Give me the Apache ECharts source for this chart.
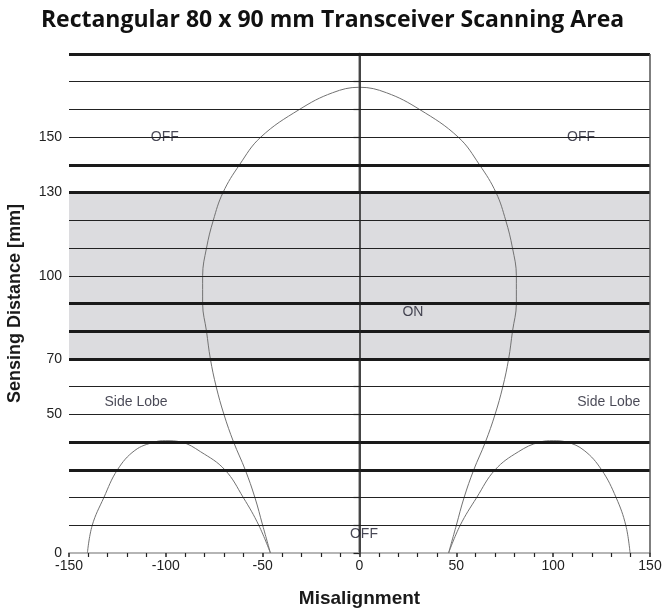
<!DOCTYPE html>
<html>
<head>
<meta charset="utf-8">
<script src="https://cdn.jsdelivr.net/npm/echarts@6/dist/echarts.min.js"></script>
<style>html,body{margin:0;padding:0;background:#fff}#c{width:665px;height:615px}</style>
</head>
<body>
<div id="c"></div>
<script>
// ---- data ----
var titleText = 'Rectangular 80 x 90 mm Transceiver Scanning Area';
var xAxisName = 'Misalignment';
var yAxisName = 'Sensing Distance [mm]';
var yTickLabels = [0, 50, 70, 100, 130, 150];
var thickLines = [30, 40, 70, 80, 90, 130, 140, 180];
var thinLines = [10, 20, 50, 60, 100, 110, 120, 150, 160, 170];
var onZone = [70, 130];

var mainLobeX = [-46, -50, -54, -59, -65, -70, -74, -77, -79, -81, -81, -79, -75.5, -70.5, -62, -51, -31, -14, 0, 14, 31, 51, 62, 70.5, 75.5, 79, 81, 81, 79, 77, 74, 70, 65, 59, 54, 50, 46];
var mainLobeY = [0, 10, 20, 30, 40, 50, 60, 70, 80, 90, 100, 110, 120, 130, 140, 150, 160, 166, 168, 166, 160, 150, 140, 130, 120, 110, 100, 90, 80, 70, 60, 50, 40, 30, 20, 10, 0];
var leftLobeX = [-140.5, -138, -132, -125, -116, -106, -100, -92, -82, -69.5, -60, -52, -46];
var leftLobeY = [0, 10, 20, 30, 37, 40, 40.5, 40, 36.5, 30, 20, 10, 0];
var rightLobeX = [46, 52, 60.5, 70, 82, 93, 100, 107, 116, 125, 132.5, 137.5, 139.7];
var rightLobeY = [0, 10, 20, 30, 36.5, 40, 40.5, 40, 37, 30, 20, 10, 0];

var zoneLabels = ['OFF', 'OFF', 'ON', 'Side Lobe', 'Side Lobe', 'OFF'];
var zoneLabelX = [-100.5, 114.4, 27.6, -115.4, 128.7, 2.3];
var zoneLabelY = [150, 150, 87, 54.3, 54.3, 6.8];

function pairs(xs, ys) { return xs.map(function (x, i) { return [x, ys[i]]; }); }

var chart = echarts.init(document.getElementById('c'), null, {renderer: 'canvas'});

var hLines = [];
thinLines.forEach(function (v) { hLines.push({yAxis: v, lineStyle: {width: 1.2, color: '#222', type: 'solid'}}); });
thickLines.forEach(function (v) { hLines.push({yAxis: v, lineStyle: {width: 3, color: '#1a1a1a', type: 'solid'}}); });
hLines.push({xAxis: 0, lineStyle: {width: 1.5, color: '#222', type: 'solid'}});
hLines.push({xAxis: 150, lineStyle: {width: 1.5, color: '#555', type: 'solid'}});

var curveStyle = {color: '#727272', width: 1};
var sans = 'Liberation Sans, Arial, sans-serif';

chart.setOption({
  animation: false,
  backgroundColor: '#fff',
  title: {
    text: titleText, left: 'center', top: 4,
    textStyle: {fontFamily: 'Open Sans', fontWeight: 'bold', fontSize: 23, color: '#111'}
  },
  grid: {left: 69, right: 15, top: 54, bottom: 62, containLabel: false, outerBoundsMode: 'none'},
  xAxis: {
    type: 'value', min: -150, max: 150, interval: 50,
    name: xAxisName, nameLocation: 'middle', nameGap: 36,
    nameTextStyle: {fontFamily: sans, fontWeight: 'bold', fontSize: 19, color: '#1a1a1a'},
    axisLine: {show: true, lineStyle: {color: '#b5b5b5', width: 2}},
    axisTick: {show: true, length: 4, lineStyle: {color: '#222', width: 1.5}},
    minorTick: {show: true, splitNumber: 5, length: 4, lineStyle: {color: '#222', width: 1.2}},
    axisLabel: {fontFamily: sans, fontSize: 14, color: '#222', margin: 6},
    splitLine: {show: false}
  },
  yAxis: {
    type: 'value', min: 0, max: 180, interval: 10,
    name: yAxisName, nameLocation: 'middle', nameGap: 45, nameRotate: 90,
    nameTextStyle: {fontFamily: sans, fontWeight: 'bold', fontSize: 18, color: '#1a1a1a'},
    axisLine: {show: true, lineStyle: {color: '#b0b0b0', width: 3}},
    axisTick: {show: true, length: 6, lineStyle: {color: '#222', width: 1.2}},
    axisLabel: {
      fontFamily: sans, fontSize: 14, color: '#222', margin: 7,
      formatter: function (v) { return yTickLabels.indexOf(v) >= 0 ? String(v) : ''; }
    },
    splitLine: {show: false}
  },
  series: [
    {
      type: 'line', data: [], silent: true, z: 1,
      markArea: {silent: true, itemStyle: {color: '#dcdcdf'}, data: [[{yAxis: onZone[0]}, {yAxis: onZone[1]}]]}
    },
    {
      type: 'line', data: [], silent: true, z: 3,
      markLine: {silent: true, symbol: ['none', 'none'], label: {show: false}, animation: false, data: hLines}
    },
    {type: 'line', data: pairs(mainLobeX, mainLobeY), smooth: 0.4, showSymbol: false, lineStyle: curveStyle, z: 4, silent: true},
    {type: 'line', data: pairs(leftLobeX, leftLobeY), smooth: 0.4, showSymbol: false, lineStyle: curveStyle, z: 4, silent: true},
    {type: 'line', data: pairs(rightLobeX, rightLobeY), smooth: 0.4, showSymbol: false, lineStyle: curveStyle, z: 4, silent: true},
    {
      type: 'scatter', symbolSize: 0, z: 5, silent: true,
      data: zoneLabels.map(function (t, i) { return {value: [zoneLabelX[i], zoneLabelY[i]], name: t}; }),
      label: {show: true, position: 'inside', formatter: '{b}', fontFamily: sans, fontSize: 14, color: '#1a1a2a'}
    }
  ]
});
</script>
</body>
</html>
